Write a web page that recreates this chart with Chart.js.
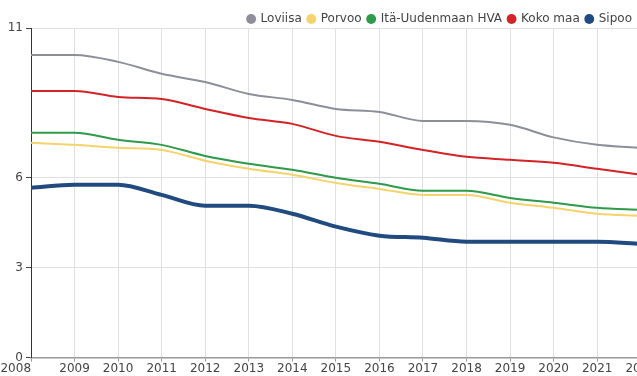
<!DOCTYPE html>
<html lang="fi">
<head>
  <meta charset="UTF-8">
  <title>Kehitys 2008–2022</title>
  <script src="https://cdn.jsdelivr.net/npm/chart.js"></script>
  <style>
    html, body {
      margin: 0;
      padding: 0;
      background: #fff;
      overflow: hidden;
    }
    .wrap {
      position: relative;
      width: 656px;
      height: 376px;
    }
  </style>
</head>
<body>
  <div class="wrap">
    <canvas id="chart"></canvas>
  </div>
  <script>
    const years = ['2008', '2009', '2010', '2011', '2012', '2013', '2014', '2015',
                   '2016', '2017', '2018', '2019', '2020', '2021', '2022'];
    const yTicks = [0, 3, 6, 11];

    const loviisa = [10.1, 10.1, 9.87, 9.47, 9.2, 8.8, 8.6, 8.3, 8.2, 7.9, 7.9, 7.77, 7.35, 7.1, 7.0];
    const porvoo  = [7.17, 7.1, 7.0, 6.93, 6.57, 6.3, 6.1, 5.83, 5.63, 5.43, 5.43, 5.17, 5.0, 4.8, 4.73];
    const itaUusimaa = [7.5, 7.5, 7.27, 7.1, 6.73, 6.47, 6.27, 6.0, 5.8, 5.57, 5.57, 5.33, 5.17, 5.0, 4.93];
    const kokoMaa = [8.9, 8.9, 8.7, 8.63, 8.3, 8.0, 7.8, 7.4, 7.2, 6.93, 6.7, 6.6, 6.5, 6.3, 6.1];
    const sipoo   = [5.67, 5.77, 5.77, 5.43, 5.07, 5.07, 4.8, 4.37, 4.07, 4.0, 3.87, 3.87, 3.87, 3.87, 3.8];

    function line(label, data, color, width) {
      return {
        label: label,
        data: data,
        borderColor: color,
        backgroundColor: color,
        borderWidth: width,
        pointRadius: 0,
        cubicInterpolationMode: 'monotone',
        fill: false
      };
    }

    // the plot runs past the window edge, but the legend stays inside it
    const legendShift = {
      id: 'legendShift',
      afterLayout(chart) {
        const l = chart.legend;
        l.left -= 18;
        l.right -= 18;
        l.top += 7;
        l.bottom += 7;
      }
    };

    new Chart(document.getElementById('chart'), {
      type: 'line',
      data: {
        labels: years,
        datasets: [
          line('Loviisa', loviisa, '#8c8e9a', 2),
          line('Porvoo', porvoo, '#f4d36a', 2),
          line('Itä-Uudenmaan HVA', itaUusimaa, '#2e9a4a', 2),
          line('Koko maa', kokoMaa, '#d42327', 2),
          line('Sipoo', sipoo, '#214b80', 4)
        ]
      },
      options: {
        responsive: true,
        maintainAspectRatio: false,
        animation: false,
        plugins: {
          legend: {
            position: 'top',
            align: 'end',
            labels: {
              usePointStyle: true,
              pointStyle: 'circle',
              boxWidth: 7,
              boxHeight: 7,
              padding: 6,
              color: '#444',
              font: { family: 'DejaVu Sans', size: 12 },
              generateLabels: (chart) => {
                const items = Chart.defaults.plugins.legend.labels.generateLabels(chart);
                items.forEach(it => { it.lineWidth = 0; });
                return items;
              }
            }
          },
          tooltip: { enabled: false }
        },
        scales: {
          x: {
            offset: false,
            grid: { color: '#e0e0e0', tickColor: '#999', tickLength: 4 },
            border: { color: '#9a9a9a', width: 1.5 },
            ticks: {
              color: '#444',
              padding: 0,
              maxRotation: 0,
              autoSkip: false,
              font: { family: 'DejaVu Sans', size: 12 },
              // first year sits left of its tick, against the edge
              callback: (v, i) => i === 0 ? years[i] + '        ' : years[i]
            }
          },
          y: {
            min: 0,
            max: 11,
            afterBuildTicks: (axis) => {
              axis.ticks = yTicks.map(v => ({ value: v }));
            },
            afterFit: (axis) => { axis.width = 31; },
            grid: { color: '#e0e0e0', tickColor: '#444', tickLength: 5 },
            border: { color: '#333' },
            ticks: {
              color: '#444',
              padding: 3,
              font: { family: 'DejaVu Sans', size: 12 }
            }
          }
        }
      },
      plugins: [legendShift]
    });
  </script>
</body>
</html>
